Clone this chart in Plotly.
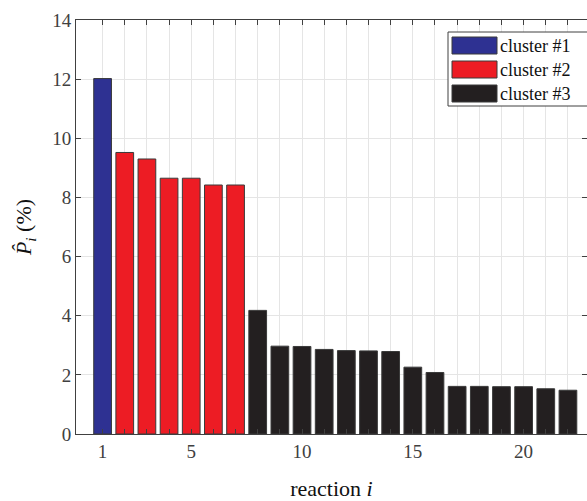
import plotly.graph_objects as go

reactions = list(range(1, 23))
values = [12.02, 9.52, 9.3, 8.65, 8.65, 8.42, 8.42,
          4.18, 2.97, 2.96, 2.86, 2.82, 2.81, 2.79, 2.26, 2.08,
          1.61, 1.61, 1.60, 1.60, 1.53, 1.48]
clusters = [1, 2, 2, 2, 2, 2, 2] + [3] * 15
cluster_names = ["cluster #1", "cluster #2", "cluster #3"]
cluster_colors = ["#2E3192", "#ED1C24", "#231F20"]
xtick_labels = {1: "1", 5: "5", 10: "10", 15: "15", 20: "20"}

FONT = "Times New Roman"
AX = "#404040"

fig = go.Figure()
for k, (name, col) in enumerate(zip(cluster_names, cluster_colors), start=1):
    xs = [r for r, c in zip(reactions, clusters) if c == k]
    ys = [v for v, c in zip(values, clusters) if c == k]
    fig.add_trace(go.Bar(x=xs, y=ys, name=name, width=0.8,
                         marker=dict(color=col, line=dict(color="#3a3a3a", width=1)),
                         showlegend=False))

fig.update_layout(
    template="none",
    width=587, height=501,
    margin=dict(l=76, r=0, t=20, b=67),
    plot_bgcolor="white", paper_bgcolor="white",
    barmode="overlay",
    font=dict(family=FONT, size=18),
    xaxis=dict(range=[-0.2, 22.86], tickvals=reactions,
               ticktext=[xtick_labels.get(r, "") for r in reactions],
               ticks="inside", ticklen=5, tickcolor=AX, mirror="ticks",
               showline=True, linecolor=AX, linewidth=1,
               showgrid=True, gridcolor="#e5e5e5", gridwidth=1, zeroline=False,
               title=dict(text="reaction <i>i</i>", font=dict(family=FONT, size=22, color="#111"), standoff=20),
               tickfont=dict(family=FONT, size=19, color=AX)),
    yaxis=dict(range=[0, 14], dtick=2, tick0=0,
               ticks="inside", ticklen=5, tickcolor=AX, mirror="ticks",
               showline=True, linecolor=AX, linewidth=1,
               showgrid=True, gridcolor="#e5e5e5", gridwidth=1, zeroline=False,
               title=dict(text="<i>P&#770;</i><sub><i>i</i></sub> (%)",
                          font=dict(family=FONT, size=22, color="#111"), standoff=14),
               tickfont=dict(family=FONT, size=19, color=AX)),
)

# custom legend (box with wide swatches)
lx0, ly0 = 448, 32
fig.add_shape(type="rect", xref="paper", yref="paper",
              x0=(lx0 - 76) / 511, x1=1.2, y0=(434 - 106) / 414, y1=(434 - ly0) / 414,
              line=dict(color=AX, width=1), fillcolor="white", layer="above")
for i, (name, col) in enumerate(zip(cluster_names, cluster_colors)):
    top = 37 + i * 24
    fig.add_shape(type="rect", xref="paper", yref="paper",
                  x0=(452 - 76) / 511, x1=(497 - 76) / 511,
                  y0=(434 - (top + 17)) / 414, y1=(434 - top) / 414,
                  line=dict(color="#3a3a3a", width=1), fillcolor=col, layer="above")
    fig.add_annotation(xref="paper", yref="paper", x=(498 - 76) / 511,
                       y=(434 - (top + 8.5)) / 414, text=name, showarrow=False,
                       xanchor="left", yanchor="middle",
                       font=dict(family=FONT, size=18, color="#111"))

fig.write_html("out.html")
